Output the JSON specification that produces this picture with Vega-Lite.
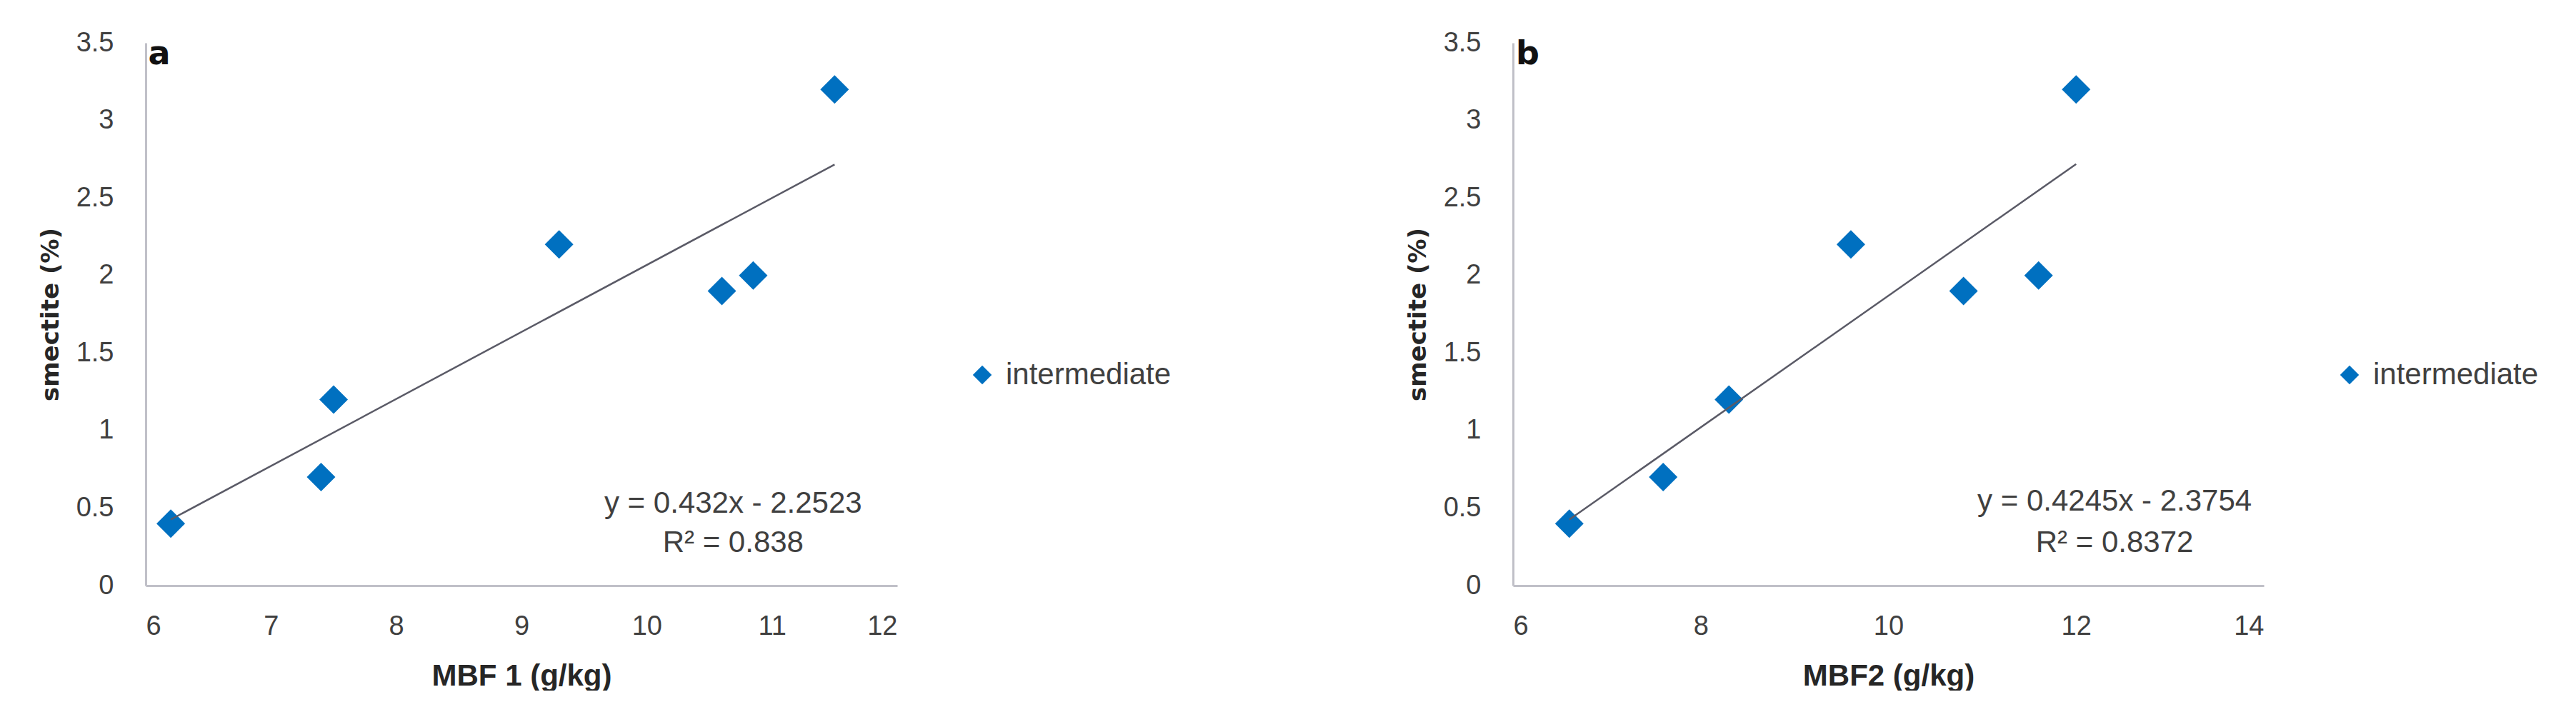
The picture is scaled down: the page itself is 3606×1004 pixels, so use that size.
{
  "$schema": "https://vega.github.io/schema/vega-lite/v6.json",
  "background": "white",
  "padding": {"left": 54, "top": 41, "right": 0, "bottom": 0},
  "autosize": {"type": "pad"},
  "spacing": 328,
  "resolve": {"scale": {"color": "independent"}, "legend": {"color": "independent"}},
  "datasets": {
    "a": [
      {"mbf": 6.2, "smectite": 0.4, "series": "intermediate"},
      {"mbf": 7.4, "smectite": 0.7, "series": "intermediate"},
      {"mbf": 7.5, "smectite": 1.2, "series": "intermediate"},
      {"mbf": 9.3, "smectite": 2.2, "series": "intermediate"},
      {"mbf": 10.6, "smectite": 1.9, "series": "intermediate"},
      {"mbf": 10.85, "smectite": 2.0, "series": "intermediate"},
      {"mbf": 11.5, "smectite": 3.2, "series": "intermediate"}
    ],
    "b": [
      {"mbf": 6.6, "smectite": 0.4, "series": "intermediate"},
      {"mbf": 7.6, "smectite": 0.7, "series": "intermediate"},
      {"mbf": 8.3, "smectite": 1.2, "series": "intermediate"},
      {"mbf": 9.6, "smectite": 2.2, "series": "intermediate"},
      {"mbf": 10.8, "smectite": 1.9, "series": "intermediate"},
      {"mbf": 11.6, "smectite": 2.0, "series": "intermediate"},
      {"mbf": 12.0, "smectite": 3.2, "series": "intermediate"}
    ]
  },
  "config": {
    "view": {"stroke": null},
    "font": "Liberation Sans",
    "axis": {
      "grid": false,
      "ticks": false,
      "domainColor": "#C0C0C8",
      "domainWidth": 3,
      "labelFont": "Liberation Sans",
      "labelFontSize": 38,
      "labelColor": "#404040",
      "titleColor": "#262626",
      "titleFontWeight": "bold"
    },
    "axisX": {"labelPadding": 38, "titlePadding": 30, "titleFont": "Liberation Sans", "titleFontSize": 42},
    "axisY": {"labelPadding": 45, "titlePadding": 18, "titleFont": "DejaVu Sans", "titleFontSize": 34},
    "legend": {
      "symbolType": "diamond",
      "symbolSize": 700,
      "labelFontSize": 42,
      "labelColor": "#404040",
      "labelOffset": 12,
      "labelLimit": 0,
      "padding": 0
    }
  },
  "hconcat": [
    {
      "width": 1052,
      "height": 760,
      "data": {"name": "a"},
      "layer": [
        {
          "mark": {"type": "point", "shape": "diamond", "filled": true, "size": 1600, "opacity": 1},
          "encoding": {
            "x": {"field": "mbf", "type": "quantitative", "scale": {"domain": [6, 12], "nice": false, "zero": false}, "axis": {"title": "MBF 1 (g/kg)", "values": [6, 7, 8, 9, 10, 11, 12], "format": "d"}},
            "y": {"field": "smectite", "type": "quantitative", "scale": {"domain": [0, 3.5], "nice": false}, "axis": {"title": "smectite (%)", "values": [0, 0.5, 1, 1.5, 2, 2.5, 3, 3.5], "format": ".1~f"}},
            "color": {"field": "series", "type": "nominal", "scale": {"range": ["#0070C0"]}, "legend": {"title": null, "orient": "none", "legendX": 1150, "legendY": 444}}
          }
        },
        {
          "transform": [{"regression": "smectite", "on": "mbf"}],
          "mark": {"type": "line", "color": "#5A5A66", "strokeWidth": 2.5},
          "encoding": {
            "x": {"field": "mbf", "type": "quantitative"},
            "y": {"field": "smectite", "type": "quantitative"}
          }
        },
        {
          "data": {"values": [{}]},
          "mark": {"type": "text", "fontSize": 42, "color": "#404040", "align": "center", "baseline": "alphabetic"},
          "encoding": {"x": {"datum": 10.69}, "y": {"datum": 0.47}, "text": {"value": "y = 0.432x - 2.2523"}}
        },
        {
          "data": {"values": [{}]},
          "mark": {"type": "text", "fontSize": 42, "color": "#404040", "align": "center", "baseline": "alphabetic"},
          "encoding": {"x": {"datum": 10.69}, "y": {"datum": 0.216}, "text": {"value": "R² = 0.838"}}
        },
        {
          "data": {"values": [{}]},
          "mark": {"type": "text", "fontSize": 46, "font": "DejaVu Sans", "fontWeight": "bold", "color": "#111111", "align": "left", "baseline": "alphabetic"},
          "encoding": {"x": {"datum": 6.02}, "y": {"datum": 3.36}, "text": {"value": "a"}}
        }
      ]
    },
    {
      "width": 1051,
      "height": 760,
      "data": {"name": "b"},
      "layer": [
        {
          "mark": {"type": "point", "shape": "diamond", "filled": true, "size": 1600, "opacity": 1},
          "encoding": {
            "x": {"field": "mbf", "type": "quantitative", "scale": {"domain": [6, 14], "nice": false, "zero": false}, "axis": {"title": "MBF2 (g/kg)", "values": [6, 8, 10, 12, 14], "format": "d"}},
            "y": {"field": "smectite", "type": "quantitative", "scale": {"domain": [0, 3.5], "nice": false}, "axis": {"title": "smectite (%)", "values": [0, 0.5, 1, 1.5, 2, 2.5, 3, 3.5], "format": ".1~f"}},
            "color": {"field": "series", "type": "nominal", "scale": {"range": ["#0070C0"]}, "legend": {"title": null, "orient": "none", "legendX": 1150, "legendY": 444}}
          }
        },
        {
          "transform": [{"regression": "smectite", "on": "mbf"}],
          "mark": {"type": "line", "color": "#5A5A66", "strokeWidth": 2.5},
          "encoding": {
            "x": {"field": "mbf", "type": "quantitative"},
            "y": {"field": "smectite", "type": "quantitative"}
          }
        },
        {
          "data": {"values": [{}]},
          "mark": {"type": "text", "fontSize": 42, "color": "#404040", "align": "center", "baseline": "alphabetic"},
          "encoding": {"x": {"datum": 12.41}, "y": {"datum": 0.484}, "text": {"value": "y = 0.4245x - 2.3754"}}
        },
        {
          "data": {"values": [{}]},
          "mark": {"type": "text", "fontSize": 42, "color": "#404040", "align": "center", "baseline": "alphabetic"},
          "encoding": {"x": {"datum": 12.41}, "y": {"datum": 0.216}, "text": {"value": "R² = 0.8372"}}
        },
        {
          "data": {"values": [{}]},
          "mark": {"type": "text", "fontSize": 46, "font": "DejaVu Sans", "fontWeight": "bold", "color": "#111111", "align": "left", "baseline": "alphabetic"},
          "encoding": {"x": {"datum": 6.03}, "y": {"datum": 3.36}, "text": {"value": "b"}}
        }
      ]
    }
  ]
}
